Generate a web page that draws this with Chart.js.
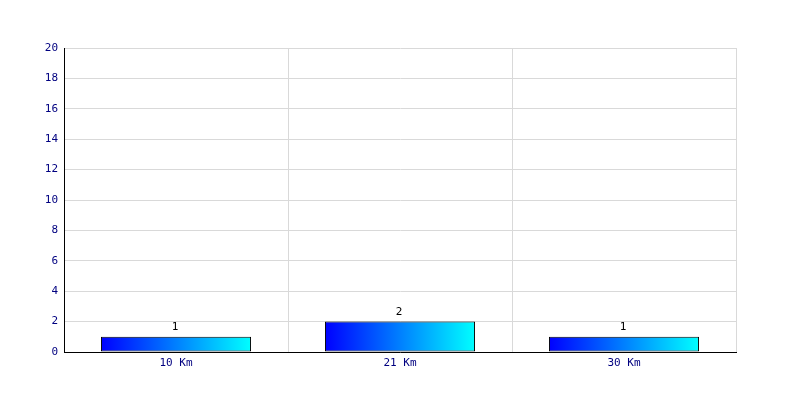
<!DOCTYPE html>
<html>
<head>
<meta charset="utf-8">
<script src="https://cdn.jsdelivr.net/npm/chart.js@4"></script>
<style>
  html, body { margin: 0; padding: 0; background: #fff; }
  #wrap { width: 800px; height: 400px; }
</style>
</head>
<body>
<div id="wrap"><canvas id="distanceChart" width="800" height="400"></canvas></div>
<script>
const categories = ['10 Km', '21 Km', '30 Km'];
const runners = [1, 2, 1];
const yTicks = [0, 2, 4, 6, 8, 10, 12, 14, 16, 18, 20];

const BAR_PCT = 0.67;
const FONT = '"DejaVu Sans Mono", monospace';

function barGradient(context) {
    const chart = context.chart;
    const x = chart.scales.x;
    if (!chart.chartArea || !x) return '#0000ff';
    const step = x.getPixelForValue(1) - x.getPixelForValue(0);
    const center = x.getPixelForValue(context.dataIndex);
    const half = step * BAR_PCT / 2;
    const g = chart.ctx.createLinearGradient(center - half, 0, center + half, 0);
    g.addColorStop(0, '#0000ff');
    g.addColorStop(1, '#00ffff');
    return g;
}

const valueLabels = {
    id: 'valueLabels',
    afterDatasetsDraw(chart) {
        const ctx = chart.ctx;
        const meta = chart.getDatasetMeta(0);
        ctx.save();
        ctx.font = '11px ' + FONT;
        ctx.fillStyle = '#000';
        ctx.textAlign = 'center';
        ctx.textBaseline = 'bottom';
        meta.data.forEach((bar, i) => {
            ctx.fillText(String(runners[i]), bar.x - 1, bar.y - 4);
        });
        ctx.restore();
    }
};

new Chart(document.getElementById('distanceChart'), {
    type: 'bar',
    data: {
        labels: categories,
        datasets: [{
            data: runners,
            backgroundColor: barGradient,
            borderColor: '#000',
            borderWidth: 1,
            borderSkipped: false,
            barPercentage: BAR_PCT,
            categoryPercentage: 1
        }]
    },
    options: {
        responsive: false,
        animation: false,
        events: [],
        layout: { padding: { top: 48, right: 64, bottom: 0, left: 0 } },
        plugins: {
            legend: { display: false },
            tooltip: { enabled: false }
        },
        scales: {
            x: {
                offset: true,
                grid: { color: '#d9d9d9', offset: true, drawTicks: false },
                border: { color: '#000', width: 1 },
                ticks: { color: '#000080', font: { family: FONT, size: 11 }, padding: 5 },
                afterFit(scale) { scale.height = 48; }
            },
            y: {
                min: 0,
                max: 20,
                afterBuildTicks(scale) { scale.ticks = yTicks.map(v => ({ value: v })); },
                grid: { color: '#d9d9d9', drawTicks: false },
                border: { color: '#000', width: 1 },
                ticks: { color: '#000080', font: { family: FONT, size: 11, lineHeight: 1.4 }, padding: 6 },
                afterFit(scale) { scale.width = 64; }
            }
        }
    },
    plugins: [valueLabels]
});
</script>
</body>
</html>
